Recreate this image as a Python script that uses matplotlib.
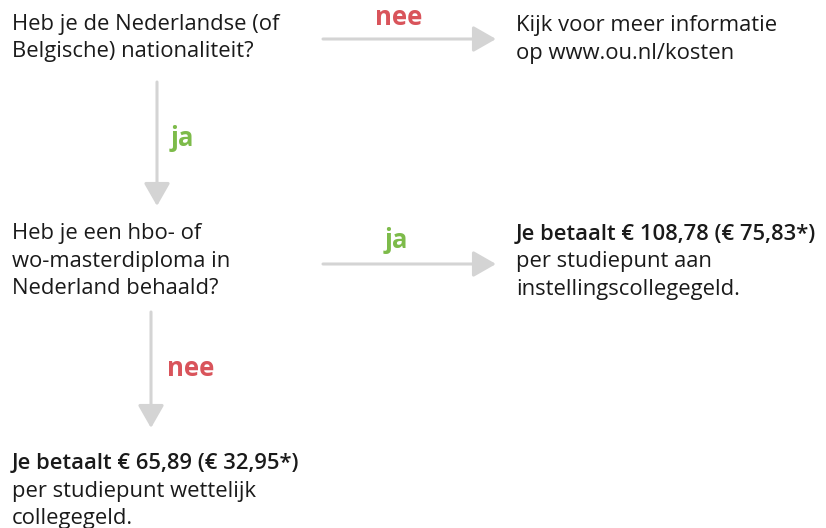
import matplotlib.pyplot as plt

# --------------------------------------------------------
# CONTENT
# --------------------------------------------------------
question_1 = ["Heb je de Nederlandse (of", "Belgische) nationaliteit?"]
answer_no_1 = ["Kijk voor meer informatie", "op www.ou.nl/kosten"]
question_2 = ["Heb je een hbo- of", "wo-masterdiploma in", "Nederland behaald?"]
result_yes = ["Je betaalt € 108,78 (€ 75,83*)", "per studiepunt aan", "instellingscollegegeld."]
result_no = ["Je betaalt € 65,89 (€ 32,95*)", "per studiepunt wettelijk", "collegegeld."]
labels = {"ja": "#7dbb4a", "nee": "#d9545b"}

FONT = "Open Sans"
SIZE = 15.8
LABEL_SIZE = 18.5
TEXT_COLOR = "#1a1a1a"
ARROW_COLOR = "#d4d4d4"
LINE_GAP = 27.5

fig = plt.figure(figsize=(8.26, 5.28), dpi=100)
ax = fig.add_axes([0, 0, 1, 1])
ax.set_xlim(0, 826)
ax.set_ylim(528, 0)
ax.axis("off")


def block(x, y, lines, bold_first=False):
    for i, line in enumerate(lines):
        ax.text(x, y + i * LINE_GAP, line, fontsize=SIZE, family=FONT,
                color=TEXT_COLOR, va="baseline", ha="left",
                fontweight="semibold" if (bold_first and i == 0) else "normal")


def arrow(x0, y0, x1, y1):
    ax.annotate("", xy=(x1, y1), xytext=(x0, y0),
                arrowprops=dict(arrowstyle="-|>,head_length=1.4,head_width=0.8",
                                color=ARROW_COLOR, lw=2.2, shrinkA=0, shrinkB=0))


def label(x, y, word):
    ax.text(x, y, word, fontsize=LABEL_SIZE, family=FONT, fontweight="bold",
            color=labels[word], va="baseline", ha="left")


block(12, 30, question_1)
block(516, 31, answer_no_1)
block(12, 239, question_2)
block(516, 240, result_yes, bold_first=True)
block(12, 469, result_no, bold_first=True)

arrow(323, 39, 496, 39)
label(375, 25, "nee")
arrow(157, 82, 157, 206)
label(171, 146, "ja")
arrow(323, 264, 496, 264)
label(385, 248, "ja")
arrow(151, 312, 151, 428)
ax.plot([151, 151], [340, 400], color="#8a8a8a", lw=1.2)
label(167, 376, "nee")

fig.savefig("out.png", dpi=100, facecolor="white")
